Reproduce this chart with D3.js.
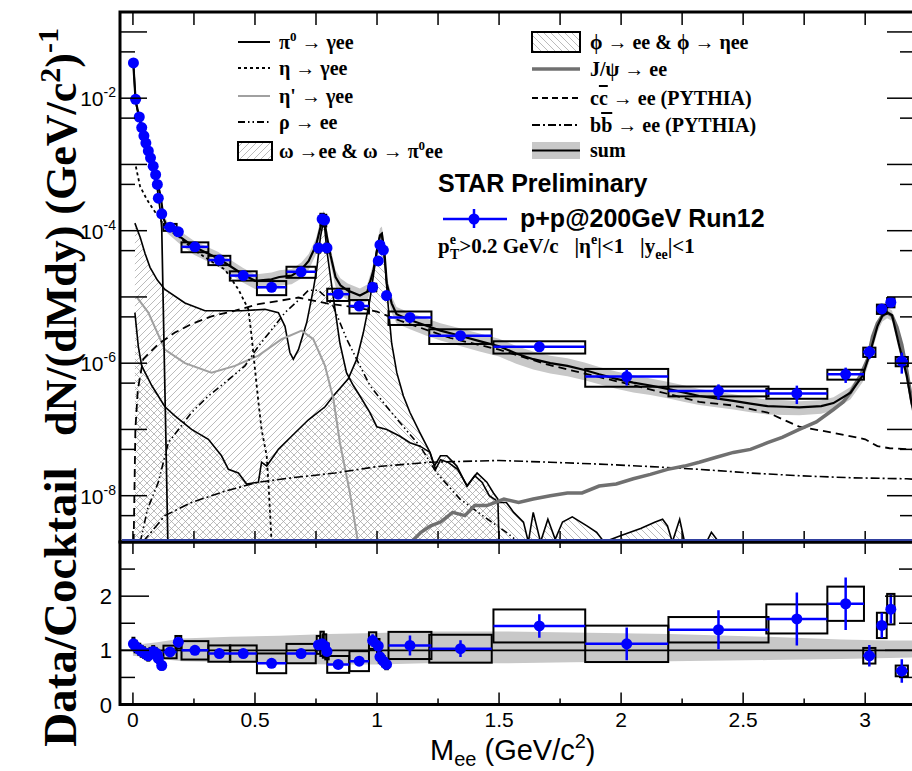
<!DOCTYPE html>
<html>
<head>
<meta charset="utf-8">
<script src="https://cdn.jsdelivr.net/npm/d3@7"></script>
<style>
    body { margin: 0; background: #fff; }
    .serif { font-family: "Liberation Serif", "DejaVu Serif", serif; font-weight: bold; }
    .sans { font-family: "Liberation Sans", Arial, sans-serif; }
    text { white-space: pre; }
</style>
</head>
<body>
<div id="chart"></div>
<script>
// measured points (STAR p+p 200 GeV Run12)
var dataM = [0.002, 0.011, 0.026, 0.036, 0.045, 0.053, 0.063, 0.072, 0.083, 0.093,
    0.100, 0.104, 0.118, 0.152, 0.186, 0.254, 0.354, 0.452, 0.568, 0.689,
    0.760, 0.775, 0.785, 0.795, 0.841, 0.927, 0.982, 1.005, 1.012, 1.026,
    1.039, 1.135, 1.342, 1.665, 2.023, 2.399, 2.720, 2.920, 3.017, 3.068,
    3.105, 3.150];
var dataY = [3.4e-2, 9.6e-3, 5.2e-3, 3.6e-3, 2.7e-3, 2.1e-3, 1.6e-3, 1.26e-3, 9.4e-4, 7.0e-4,
    5.0e-4, 3.1e-4, 1.8e-4, 1.13e-4, 9.6e-5, 5.7e-5, 3.6e-5, 2.1e-5, 1.4e-5, 2.4e-5,
    5.5e-5, 1.5e-4, 1.45e-4, 5.5e-5, 1.1e-5, 7.3e-6, 1.4e-5, 3.5e-5, 6.1e-5, 5.1e-5,
    1.05e-5, 4.9e-6, 2.6e-6, 1.77e-6, 6.3e-7, 3.8e-7, 3.5e-7, 6.8e-7, 1.48e-6, 6.6e-6,
    8.3e-6, 1.07e-6];
var dataXerr = [0.004, 0.004, 0.004, 0.004, 0.004, 0.004, 0.004, 0.004, 0.004, 0.004,
    0.004, 0.004, 0.006, 0.027, 0.012, 0.055, 0.045, 0.055, 0.06, 0.06,
    0.007, 0.007, 0.007, 0.007, 0.045, 0.04, 0.015, 0.005, 0.005, 0.005,
    0.005, 0.088, 0.128, 0.188, 0.17, 0.205, 0.125, 0.075, 0.025, 0.02,
    0.015, 0.025];
var dataStat = [0.03, 0.03, 0.04, 0.04, 0.04, 0.05, 0.05, 0.05, 0.05, 0.06,
    0.06, 0.06, 0.08, 0.06, 0.08, 0.05, 0.06, 0.07, 0.08, 0.07,
    0.08, 0.06, 0.06, 0.08, 0.1, 0.1, 0.1, 0.1, 0.08, 0.08,
    0.12, 0.17, 0.15, 0.15, 0.27, 0.26, 0.31, 0.26, 0.22, 0.16,
    0.15, 0.35];
var dataSys = [0.1, 0.1, 0.1, 0.1, 0.1, 0.1, 0.1, 0.1, 0.1, 0.1,
    0.1, 0.1, 0.1, 0.12, 0.1, 0.17, 0.16, 0.16, 0.24, 0.19,
    0.15, 0.2, 0.2, 0.15, 0.21, 0.23, 0.13, 0.12, 0.12, 0.12,
    0.12, 0.23, 0.25, 0.21, 0.3, 0.17, 0.17, 0.17, 0.16, 0.16,
    0.16, 0.16];
var ratioY = [1.12, 1.07, 1.02, 0.98, 0.96, 0.93, 0.9, 0.95, 0.98, 0.95,
    0.92, 0.85, 0.72, 0.97, 1.15, 1.0, 0.94, 0.94, 0.76, 0.94,
    1.1, 1.12, 1.08, 0.98, 0.74, 0.8, 1.18, 1.08, 0.88, 0.8,
    0.74, 1.09, 1.03, 1.45, 1.12, 1.38, 1.58, 1.86, 0.9, 1.46,
    1.76, 0.62];

// cocktail components
var pi0M = [0.002, 0.011, 0.026, 0.045, 0.063, 0.083, 0.100, 0.112, 0.118, 0.124, 0.130, 0.137, 0.143];
var pi0Y = [3.3e-2, 9.0e-3, 4.8e-3, 2.5e-3, 1.5e-3, 8.0e-4, 4.2e-4, 2.0e-4, 1.1e-4, 8e-6, 6e-7, 3e-8, 1e-10];

var etaM = [0.012, 0.029, 0.056, 0.083, 0.111, 0.138, 0.186, 0.247, 0.329, 0.377,
    0.432, 0.473, 0.486, 0.500, 0.514, 0.527, 0.548, 0.555, 0.568];
var etaY = [9.3e-4, 4.7e-4, 3.0e-4, 2.1e-4, 1.5e-4, 1.05e-4, 8.3e-5, 5.2e-5, 3.3e-5, 2.6e-5,
    1.3e-5, 6.5e-6, 2.6e-6, 8.1e-7, 2.6e-7, 1.0e-7, 4.0e-8, 1.6e-8, 1e-10];

var etapM = [0.015, 0.063, 0.131, 0.213, 0.322, 0.418, 0.514, 0.609, 0.691, 0.739,
    0.787, 0.821, 0.848, 0.889, 0.920, 0.935];
var etapY = [1.0e-5, 5.8e-6, 1.6e-6, 1.0e-6, 7.2e-7, 9.1e-7, 1.3e-6, 2.3e-6, 3.1e-6, 2.3e-6,
    9.1e-7, 2.9e-7, 6.3e-8, 1.1e-8, 2.2e-9, 1e-10];

var rhoM = [0.030, 0.060, 0.104, 0.145, 0.240, 0.309, 0.377, 0.459, 0.514, 0.568,
    0.623, 0.678, 0.719, 0.760, 0.790, 0.821, 0.876, 0.930, 0.971, 1.040,
    1.108, 1.176, 1.245, 1.340, 1.450, 1.530, 1.580];
var rhoY = [2.0e-9, 6.3e-9, 1.6e-8, 6.3e-8, 1.8e-7, 3.2e-7, 5.1e-7, 9.1e-7, 1.8e-6, 3.2e-6,
    5.8e-6, 8.9e-6, 1.26e-5, 1.26e-5, 1.0e-5, 7.2e-6, 2.3e-6, 9.1e-7, 4.6e-7, 2.2e-7,
    1.1e-7, 5.6e-8, 2.2e-8, 8.9e-9, 4.5e-9, 2.8e-9, 1e-10];

var omegaM = [0.008, 0.030, 0.050, 0.070, 0.100, 0.131, 0.213, 0.295, 0.445, 0.541,
    0.596, 0.623, 0.643, 0.657, 0.678, 0.712, 0.739, 0.753, 0.768, 0.782,
    0.794, 0.807, 0.828, 0.848, 0.875, 0.903, 0.930, 0.971, 0.999, 1.040,
    1.094, 1.135, 1.176, 1.217, 1.235, 1.260, 1.286, 1.327, 1.368, 1.410,
    1.450, 1.477, 1.495, 1.500];
var omegaY = [1.3e-4, 7.9e-5, 4.5e-5, 2.8e-5, 1.8e-5, 1.3e-5, 8.1e-6, 6.2e-6, 6.2e-6, 6.5e-6,
    5.8e-6, 3.6e-6, 1.45e-6, 1.15e-6, 1.6e-6, 4.1e-6, 1.3e-5, 2.6e-5, 7.9e-5, 1.5e-4,
    5.2e-5, 2.3e-5, 6.5e-6, 2.0e-6, 7.2e-7, 4.6e-7, 3.2e-7, 1.8e-7, 1.1e-7, 1.0e-7,
    7.9e-8, 6.3e-8, 5.6e-8, 4.5e-8, 2.8e-8, 4.0e-8, 4.0e-8, 2.8e-8, 1.4e-8, 2.2e-8,
    1.6e-8, 1.1e-8, 8.9e-9, 1e-10];

var phiM = [0.008, 0.022, 0.036, 0.077, 0.131, 0.172, 0.240, 0.309, 0.363, 0.391,
    0.432, 0.466, 0.514, 0.527, 0.548, 0.596, 0.650, 0.719, 0.787, 0.821,
    0.882, 0.917, 0.944, 0.971, 0.985, 0.999, 1.012, 1.019, 1.033, 1.046,
    1.060, 1.081, 1.108, 1.135, 1.176, 1.217, 1.240, 1.260, 1.290, 1.330,
    1.370, 1.400, 1.430, 1.460, 1.500, 1.530, 1.560, 1.600, 1.620, 1.640,
    1.670, 1.700, 1.730, 1.760, 1.800, 1.860, 1.900, 1.930, 2.000, 2.080,
    2.140, 2.170, 2.190, 2.210, 2.240, 2.260, 2.300, 2.350, 2.370, 2.400];
var phiY = [5.8e-6, 1.8e-6, 9.1e-7, 4.6e-7, 2.2e-7, 1.6e-7, 1.0e-7, 7.1e-8, 4.0e-8, 2.5e-8,
    2.2e-8, 1.5e-8, 1.6e-8, 3.2e-8, 2.8e-8, 5.0e-8, 7.9e-8, 1.4e-7, 2.2e-7, 3.2e-7,
    5.8e-7, 1.15e-6, 2.9e-6, 9.1e-6, 2.1e-5, 5.2e-5, 8.3e-5, 8.9e-5, 3.0e-5, 7.2e-6,
    2.0e-6, 7.2e-7, 3.2e-7, 1.8e-7, 8.9e-8, 4.5e-8, 2.5e-8, 3.5e-8, 3.2e-8, 2.5e-8,
    1.4e-8, 2.0e-8, 1.6e-8, 1.0e-8, 7.9e-9, 7.9e-9, 5.6e-9, 4.0e-9, 2.0e-9, 5.6e-9,
    2.0e-9, 4.4e-9, 2.2e-9, 4.0e-9, 4.8e-9, 3.5e-9, 2.8e-9, 2.0e-9, 2.5e-9, 3.2e-9,
    4.0e-9, 4.4e-9, 3.5e-9, 2.0e-9, 4.4e-9, 2.0e-9, 2.0e-9, 2.0e-9, 2.8e-9, 2.0e-9];

var jpsiM = [1.14, 1.18, 1.22, 1.26, 1.31, 1.36, 1.40, 1.45, 1.52, 1.58,
    1.64, 1.71, 1.78, 1.84, 1.91, 1.98, 2.05, 2.12, 2.19, 2.26,
    2.32, 2.39, 2.46, 2.53, 2.60, 2.66, 2.73, 2.80, 2.87, 2.91,
    2.94, 2.98, 3.01, 3.03, 3.05, 3.07, 3.09, 3.11, 3.13, 3.15,
    3.17, 3.19, 3.22];
var jpsiY = [2.0e-9, 2.8e-9, 3.5e-9, 4.0e-9, 5.6e-9, 5.0e-9, 7.1e-9, 7.1e-9, 8.9e-9, 7.9e-9,
    8.9e-9, 1.0e-8, 1.1e-8, 1.1e-8, 1.4e-8, 1.5e-8, 1.8e-8, 2.1e-8, 2.5e-8, 2.8e-8,
    3.2e-8, 3.8e-8, 4.5e-8, 5.0e-8, 6.3e-8, 7.6e-8, 1.0e-7, 1.3e-7, 2.0e-7, 2.6e-7,
    3.6e-7, 6.5e-7, 1.15e-6, 2.5e-6, 4.0e-6, 5.2e-6, 5.8e-6, 5.2e-6, 3.5e-6, 1.9e-6,
    7.9e-7, 2.8e-7, 7.9e-8];

var ccM = [0.003, 0.010, 0.020, 0.042, 0.104, 0.172, 0.240, 0.322, 0.418, 0.514,
    0.596, 0.678, 0.800, 0.900, 1.000, 1.100, 1.300, 1.500, 1.700, 1.900,
    2.100, 2.320, 2.460, 2.600, 2.730, 2.870, 3.000, 3.050, 3.100, 3.190,
    3.220];
var ccY = [2.0e-9, 1.0e-7, 4.0e-7, 1.15e-6, 1.95e-6, 2.9e-6, 3.9e-6, 5.1e-6, 6.2e-6, 7.8e-6,
    8.7e-6, 9.8e-6, 7.9e-6, 7.1e-6, 6.0e-6, 4.3e-6, 2.4e-6, 1.6e-6, 9.5e-7, 6.3e-7,
    4.2e-7, 2.6e-7, 2.3e-7, 1.8e-7, 1.1e-7, 8.9e-8, 7.1e-8, 5.6e-8, 5.2e-8, 5.0e-8,
    4.8e-8];

var bbM = [0.040, 0.063, 0.131, 0.240, 0.377, 0.514, 0.650, 0.828, 1.000, 1.217,
    1.500, 1.709, 1.910, 2.120, 2.320, 2.530, 2.730, 2.950, 3.170, 3.220];
var bbY = [2.0e-9, 2.5e-9, 5.0e-9, 7.9e-9, 1.17e-8, 1.6e-8, 1.86e-8, 2.2e-8, 2.75e-8, 3.2e-8,
    3.4e-8, 3.2e-8, 3.0e-8, 2.75e-8, 2.5e-8, 2.2e-8, 2.0e-8, 1.86e-8, 1.8e-8, 1.75e-8];

// cocktail sum with relative uncertainty
var sumM = [0.002, 0.011, 0.026, 0.045, 0.063, 0.083, 0.100, 0.112, 0.118, 0.126,
    0.140, 0.186, 0.250, 0.350, 0.450, 0.500, 0.568, 0.600, 0.650, 0.690,
    0.720, 0.750, 0.770, 0.782, 0.795, 0.810, 0.830, 0.850, 0.880, 0.930,
    0.960, 0.985, 1.000, 1.012, 1.020, 1.030, 1.040, 1.060, 1.080, 1.135,
    1.200, 1.260, 1.340, 1.420, 1.500, 1.570, 1.640, 1.710, 1.780, 1.850,
    1.910, 1.980, 2.050, 2.120, 2.190, 2.260, 2.320, 2.390, 2.460, 2.530,
    2.600, 2.670, 2.730, 2.820, 2.870, 2.940, 2.990, 3.020, 3.050, 3.070,
    3.090, 3.110, 3.140, 3.170, 3.190, 3.220];
var sumY = [3.1e-2, 9.2e-3, 5.1e-3, 2.8e-3, 1.75e-3, 9.6e-4, 5.4e-4, 3.5e-4, 2.5e-4, 1.5e-4,
    1.15e-4, 8.4e-5, 5.7e-5, 3.8e-5, 2.2e-5, 1.75e-5, 1.85e-5, 2.0e-5, 2.1e-5, 2.6e-5,
    3.5e-5, 6.0e-5, 1.2e-4, 1.6e-4, 8.0e-5, 4.2e-5, 2.0e-5, 1.5e-5, 1.25e-5, 1.05e-5,
    1.2e-5, 2.5e-5, 5.0e-5, 8.5e-5, 9.0e-5, 5.0e-5, 1.6e-5, 8.0e-6, 5.5e-6, 4.5e-6,
    3.7e-6, 3.1e-6, 2.6e-6, 2.15e-6, 1.8e-6, 1.4e-6, 1.15e-6, 1.0e-6, 9.1e-7, 7.9e-7,
    6.8e-7, 5.8e-7, 5.1e-7, 4.6e-7, 4.1e-7, 3.6e-7, 3.2e-7, 2.95e-7, 2.7e-7, 2.45e-7,
    2.25e-7, 2.2e-7, 2.15e-7, 2.25e-7, 2.5e-7, 3.6e-7, 6.5e-7, 1.45e-6, 3.6e-6, 5.2e-6,
    5.8e-6, 5.3e-6, 1.8e-6, 6.5e-7, 2.5e-7, 1.0e-7];
var sumRel = [0.1, 0.1, 0.1, 0.12, 0.12, 0.14, 0.15, 0.17, 0.18, 0.2,
    0.2, 0.22, 0.24, 0.25, 0.25, 0.25, 0.26, 0.26, 0.26, 0.27,
    0.27, 0.27, 0.27, 0.27, 0.28, 0.28, 0.28, 0.28, 0.28, 0.28,
    0.28, 0.28, 0.28, 0.28, 0.28, 0.28, 0.28, 0.28, 0.28, 0.28,
    0.29, 0.29, 0.3, 0.3, 0.3, 0.3, 0.3, 0.3, 0.3, 0.3,
    0.29, 0.29, 0.29, 0.28, 0.28, 0.28, 0.27, 0.27, 0.26, 0.26,
    0.25, 0.25, 0.24, 0.23, 0.22, 0.21, 0.2, 0.2, 0.19, 0.19,
    0.18, 0.18, 0.18, 0.18, 0.18, 0.18];

// cocktail uncertainty band in the ratio panel
var ratioBandM = [0, 0.1, 0.2, 0.4, 0.6, 0.8, 1.0, 1.2, 1.5, 1.8, 2.2, 2.6, 2.9, 3.1, 3.25];
var ratioBandHi = [1.1, 1.15, 1.22, 1.25, 1.27, 1.3, 1.32, 1.35, 1.35, 1.33, 1.3, 1.25, 1.2, 1.18, 1.18];
var ratioBandLo = [0.9, 0.85, 0.8, 0.78, 0.76, 0.74, 0.74, 0.76, 0.76, 0.78, 0.8, 0.82, 0.84, 0.86, 0.87];

// tick labels
var xTickLabels = ["0", "0.5", "1", "1.5", "2", "2.5", "3"];
var yTickExponents = [-2, -4, -6, -8];
var ratioTickLabels = ["0", "1", "2"];

var width = 912, height = 771;
var left = 120, right = 914;
var mainTop = 12, mainBottom = 542, ratioBottom = 704.5;

var x = d3.scaleLinear().domain([-0.053, 3.2]).range([left, right]);
var y = d3.scaleLog().domain([2e-9, 0.2]).range([mainBottom, mainTop]).clamp(true);
var yr = d3.scaleLinear().domain([0, 3]).range([ratioBottom, mainBottom]);

var svg = d3.select("#chart").append("svg")
    .attr("width", width)
    .attr("height", height);

var defs = svg.append("defs");
defs.append("clipPath").attr("id", "clipMain").append("rect")
    .attr("x", left).attr("y", mainTop).attr("width", right - left).attr("height", mainBottom - mainTop);
defs.append("clipPath").attr("id", "clipRatio").append("rect")
    .attr("x", left).attr("y", mainBottom).attr("width", right - left).attr("height", ratioBottom - mainBottom);

// hatch patterns: omega "///", phi "\\\"
defs.append("pattern").attr("id", "hatchOmega")
    .attr("patternUnits", "userSpaceOnUse").attr("width", 7).attr("height", 7)
    .append("path").attr("d", "M-1,1 l2,-2 M0,7 l7,-7 M6,8 l2,-2")
    .attr("stroke", "#a4a4a4").attr("stroke-width", 0.75);
defs.append("pattern").attr("id", "hatchPhi")
    .attr("patternUnits", "userSpaceOnUse").attr("width", 7).attr("height", 7)
    .append("path").attr("d", "M-1,6 l2,2 M0,0 l7,7 M6,-1 l2,2")
    .attr("stroke", "#a4a4a4").attr("stroke-width", 0.75);

function pairs(ms, vs) {
    return ms.map(function (m, i) { return [m, vs[i]]; });
}

var line = d3.line()
    .x(function (d) { return x(d[0]); })
    .y(function (d) { return y(d[1]); });

var area = d3.area()
    .x(function (d) { return x(d[0]); })
    .y0(mainBottom)
    .y1(function (d) { return y(d[1]); });

var main = svg.append("g").attr("clip-path", "url(#clipMain)");

// sum band
var sumData = sumM.map(function (m, i) { return [m, sumY[i], sumRel[i]]; });
main.append("path")
    .attr("d", d3.area()
        .x(function (d) { return x(d[0]); })
        .y0(function (d) { return y(d[1] * (1 - d[2])); })
        .y1(function (d) { return y(d[1] * (1 + d[2])); })(sumData))
    .attr("fill", "#c8c8c8");

// hatched omega and phi
main.append("path").attr("d", area(pairs(phiM, phiY))).attr("fill", "url(#hatchPhi)");
main.append("path").attr("d", area(pairs(omegaM, omegaY))).attr("fill", "url(#hatchOmega)");

var curves = [
    { m: phiM, v: phiY, color: "#000", w: 1.6, dash: null },
    { m: omegaM, v: omegaY, color: "#000", w: 1.6, dash: null },
    { m: etapM, v: etapY, color: "#a0a0a0", w: 2, dash: null },
    { m: rhoM, v: rhoY, color: "#000", w: 1.6, dash: "7,3,1.5,3,1.5,3" },
    { m: etaM, v: etaY, color: "#000", w: 1.8, dash: "3,3" },
    { m: pi0M, v: pi0Y, color: "#000", w: 1.7, dash: null },
    { m: ccM, v: ccY, color: "#000", w: 1.8, dash: "8,5" },
    { m: bbM, v: bbY, color: "#000", w: 1.6, dash: "9,3,2,3" },
    { m: jpsiM, v: jpsiY, color: "#707070", w: 3.5, dash: null }
];

curves.forEach(function (c) {
    main.append("path")
        .attr("d", line(pairs(c.m, c.v)))
        .attr("fill", "none")
        .attr("stroke", c.color)
        .attr("stroke-width", c.w)
        .attr("stroke-dasharray", c.dash);
});

main.append("path")
    .attr("d", line(pairs(sumM, sumY)))
    .attr("fill", "none")
    .attr("stroke", "#000")
    .attr("stroke-width", 2.2);

// data in main panel
var points = dataM.map(function (m, i) {
    return { m: m, v: dataY[i], xe: dataXerr[i], st: dataStat[i], sy: dataSys[i], r: ratioY[i] };
});

main.selectAll(".sysbox")
    .data(points)
    .enter()
    .append("rect")
    .attr("class", "sysbox")
    .attr("x", function (d) { return x(d.m - d.xe); })
    .attr("width", function (d) { return x(d.m + d.xe) - x(d.m - d.xe); })
    .attr("y", function (d) { return y(d.v * (1 + d.sy)); })
    .attr("height", function (d) { return y(d.v * (1 - d.sy)) - y(d.v * (1 + d.sy)); })
    .attr("fill", "none")
    .attr("stroke", "#000")
    .attr("stroke-width", 2);

main.selectAll(".xerr")
    .data(points)
    .enter()
    .append("line")
    .attr("x1", function (d) { return x(d.m - d.xe); })
    .attr("x2", function (d) { return x(d.m + d.xe); })
    .attr("y1", function (d) { return y(d.v); })
    .attr("y2", function (d) { return y(d.v); })
    .attr("stroke", "#0000ff")
    .attr("stroke-width", 2.5);

main.selectAll(".yerr")
    .data(points)
    .enter()
    .append("line")
    .attr("x1", function (d) { return x(d.m); })
    .attr("x2", function (d) { return x(d.m); })
    .attr("y1", function (d) { return y(d.v * (1 - d.st)); })
    .attr("y2", function (d) { return y(d.v * (1 + d.st)); })
    .attr("stroke", "#0000ff")
    .attr("stroke-width", 2.5);

main.selectAll(".dot")
    .data(points)
    .enter()
    .append("circle")
    .attr("cx", function (d) { return x(d.m); })
    .attr("cy", function (d) { return y(d.v); })
    .attr("r", 5.5)
    .attr("fill", "#0000ff");

// ratio panel
var ratio = svg.append("g").attr("clip-path", "url(#clipRatio)");
var bandData = ratioBandM.map(function (m, i) { return [m, ratioBandLo[i], ratioBandHi[i]]; });
ratio.append("path")
    .attr("d", d3.area()
        .x(function (d) { return x(d[0]); })
        .y0(function (d) { return yr(d[1]); })
        .y1(function (d) { return yr(d[2]); })(bandData))
    .attr("fill", "#c8c8c8");

ratio.append("line")
    .attr("x1", left).attr("x2", right)
    .attr("y1", yr(1)).attr("y2", yr(1))
    .attr("stroke", "#000").attr("stroke-width", 1.6);

ratio.selectAll(".rbox")
    .data(points)
    .enter()
    .append("rect")
    .attr("x", function (d) { return x(d.m - d.xe); })
    .attr("width", function (d) { return x(d.m + d.xe) - x(d.m - d.xe); })
    .attr("y", function (d) { return yr(d.r * (1 + d.sy)); })
    .attr("height", function (d) { return yr(d.r * (1 - d.sy)) - yr(d.r * (1 + d.sy)); })
    .attr("fill", "none")
    .attr("stroke", "#000")
    .attr("stroke-width", 2);

ratio.selectAll(".rxerr")
    .data(points)
    .enter()
    .append("line")
    .attr("x1", function (d) { return x(d.m - d.xe); })
    .attr("x2", function (d) { return x(d.m + d.xe); })
    .attr("y1", function (d) { return yr(d.r); })
    .attr("y2", function (d) { return yr(d.r); })
    .attr("stroke", "#0000ff")
    .attr("stroke-width", 2.5);

ratio.selectAll(".ryerr")
    .data(points)
    .enter()
    .append("line")
    .attr("x1", function (d) { return x(d.m); })
    .attr("x2", function (d) { return x(d.m); })
    .attr("y1", function (d) { return yr(d.r * (1 - d.st)); })
    .attr("y2", function (d) { return yr(d.r * (1 + d.st)); })
    .attr("stroke", "#0000ff")
    .attr("stroke-width", 2.5);

ratio.selectAll(".rdot")
    .data(points)
    .enter()
    .append("circle")
    .attr("cx", function (d) { return x(d.m); })
    .attr("cy", function (d) { return yr(d.r); })
    .attr("r", 5.5)
    .attr("fill", "#0000ff");

// ticks
var ticks = svg.append("g").attr("stroke", "#000").attr("stroke-width", 1.5);
var xQuarter = d3.range(0, 3.01, 0.25);

xQuarter.forEach(function (t) {
    ticks.append("line").attr("x1", x(t)).attr("x2", x(t)).attr("y1", mainTop).attr("y2", mainTop + 13);
    ticks.append("line").attr("x1", x(t)).attr("x2", x(t)).attr("y1", mainBottom).attr("y2", mainBottom - 11);
    var len = (Math.round(t * 4) % 2 === 0) ? 12 : 6;
    ticks.append("line").attr("x1", x(t)).attr("x2", x(t)).attr("y1", mainBottom).attr("y2", mainBottom + len);
    ticks.append("line").attr("x1", x(t)).attr("x2", x(t)).attr("y1", ratioBottom).attr("y2", ratioBottom - len);
});

d3.range(1, 9).forEach(function (k) {
    var major = Math.pow(10, -k);
    var minor = 5 * Math.pow(10, -k - 1);
    ticks.append("line").attr("x1", left).attr("x2", left + 27).attr("y1", y(major)).attr("y2", y(major));
    ticks.append("line").attr("x1", right).attr("x2", right - 27).attr("y1", y(major)).attr("y2", y(major));
    ticks.append("line").attr("x1", left).attr("x2", left + 15).attr("y1", y(minor)).attr("y2", y(minor));
    ticks.append("line").attr("x1", right).attr("x2", right - 14).attr("y1", y(minor)).attr("y2", y(minor));
});

d3.range(0.5, 3, 0.5).forEach(function (t) {
    var len = (t % 1 === 0) ? 29 : 15;
    ticks.append("line").attr("x1", left).attr("x2", left + len).attr("y1", yr(t)).attr("y2", yr(t));
    ticks.append("line").attr("x1", right).attr("x2", right - len).attr("y1", yr(t)).attr("y2", yr(t));
});

// frames
svg.append("rect")
    .attr("x", left).attr("y", mainTop)
    .attr("width", right - left).attr("height", mainBottom - mainTop)
    .attr("fill", "none").attr("stroke", "#000").attr("stroke-width", 3);
svg.append("rect")
    .attr("x", left).attr("y", mainBottom)
    .attr("width", right - left).attr("height", ratioBottom - mainBottom)
    .attr("fill", "none").attr("stroke", "#000").attr("stroke-width", 3);
svg.append("line")
    .attr("x1", left + 2).attr("x2", right)
    .attr("y1", mainBottom - 2).attr("y2", mainBottom - 2)
    .attr("stroke", "#2f3f9f").attr("stroke-width", 2);

// tick labels
svg.selectAll(".xlab")
    .data(xTickLabels)
    .enter()
    .append("text")
    .attr("class", "sans")
    .attr("x", function (d) { return x(+d); })
    .attr("y", 727)
    .attr("text-anchor", "middle")
    .attr("font-size", 21)
    .text(function (d) { return d; });

svg.selectAll(".rlab")
    .data(ratioTickLabels)
    .enter()
    .append("text")
    .attr("class", "sans")
    .attr("x", 112)
    .attr("y", function (d) { return yr(+d) + 8; })
    .attr("text-anchor", "end")
    .attr("font-size", 22)
    .text(function (d) { return d; });

yTickExponents.forEach(function (e) {
    var t = svg.append("text")
        .attr("class", "sans")
        .attr("x", 116)
        .attr("y", y(Math.pow(10, e)) + 8)
        .attr("text-anchor", "end")
        .attr("font-size", 21);
    t.append("tspan").text("10");
    t.append("tspan").attr("dy", -9).attr("font-size", 14).text("-" + (-e));
});

// axis titles
var yt = svg.append("text")
    .attr("class", "serif")
    .attr("transform", "translate(76,232) rotate(-90)")
    .attr("text-anchor", "middle")
    .attr("font-size", 44);
yt.append("tspan").text("dN/(dMdy) (GeV/c");
yt.append("tspan").attr("dy", -16).attr("font-size", 30).text("2");
yt.append("tspan").attr("dy", 16).text(")");
yt.append("tspan").attr("dy", -18).attr("font-size", 30).text("-1");

svg.append("text")
    .attr("class", "serif")
    .attr("transform", "translate(76,607) rotate(-90)")
    .attr("text-anchor", "middle")
    .attr("font-size", 47)
    .text("Data/Cocktail");

var xt = svg.append("text")
    .attr("class", "sans")
    .attr("x", 430)
    .attr("y", 760)
    .attr("font-size", 29);
xt.append("tspan").text("M");
xt.append("tspan").attr("dy", 6).attr("font-size", 20).text("ee");
xt.append("tspan").attr("dy", -6).text(" (GeV/c");
xt.append("tspan").attr("dy", -12).attr("font-size", 20).text("2");
xt.append("tspan").attr("dy", 12).text(")");

// legend, left column
var leg = svg.append("g");
function legLine(x1, x2, yy, color, w, dash) {
    leg.append("line")
        .attr("x1", x1).attr("x2", x2).attr("y1", yy).attr("y2", yy)
        .attr("stroke", color).attr("stroke-width", w).attr("stroke-dasharray", dash);
}
function legText(xx, yy) {
    return leg.append("text").attr("class", "serif").attr("x", xx).attr("y", yy + 7).attr("font-size", 20);
}

legLine(238, 270, 42, "#000", 2, null);
var t1 = legText(279, 42);
t1.append("tspan").text("π");
t1.append("tspan").attr("dy", -8).attr("font-size", 13).text("0");
t1.append("tspan").attr("dy", 8).text(" → γee");

legLine(238, 270, 68, "#000", 2, "3,3");
legText(279, 68).text("η → γee");

legLine(238, 270, 96, "#a0a0a0", 2, null);
legText(279, 96).text("η' → γee");

legLine(238, 270, 122, "#000", 2, "7,3,1.5,3,1.5,3");
legText(279, 122).text("ρ → ee");

leg.append("rect").attr("x", 238).attr("y", 142).attr("width", 34).attr("height", 18)
    .attr("fill", "url(#hatchOmega)").attr("stroke", "#000").attr("stroke-width", 2);
var t5 = legText(279, 151);
t5.append("tspan").text("ω →ee & ω → π");
t5.append("tspan").attr("dy", -8).attr("font-size", 13).text("0");
t5.append("tspan").attr("dy", 8).text("ee");

// legend, right column
leg.append("rect").attr("x", 532).attr("y", 32).attr("width", 48).attr("height", 20)
    .attr("fill", "url(#hatchPhi)").attr("stroke", "#000").attr("stroke-width", 2);
legText(590, 42).text("ϕ → ee & ϕ → ηee");

legLine(532, 580, 69, "#707070", 3.5, null);
legText(590, 69).text("J/ψ → ee");

legLine(532, 580, 98, "#000", 2, "6,4");
var t8 = legText(590, 98);
t8.append("tspan").text("c");
t8.append("tspan").style("text-decoration", "overline").text("c");
t8.append("tspan").text(" → ee (PYTHIA)");

legLine(532, 580, 125, "#000", 2, "8,3,2,3");
var t9 = legText(590, 125);
t9.append("tspan").text("b");
t9.append("tspan").style("text-decoration", "overline").text("b");
t9.append("tspan").text(" → ee (PYTHIA)");

leg.append("rect").attr("x", 532).attr("y", 142).attr("width", 48).attr("height", 17).attr("fill", "#c8c8c8");
legLine(532, 580, 150.5, "#000", 2.2, null);
legText(590, 150).text("sum");

// labels
svg.append("text")
    .attr("class", "sans")
    .attr("x", 438).attr("y", 192)
    .attr("font-size", 25).attr("font-weight", "bold")
    .text("STAR Preliminary");

legLine(443, 507, 219, "#0000ff", 2.5, null);
leg.append("line").attr("x1", 474).attr("x2", 474).attr("y1", 209).attr("y2", 228)
    .attr("stroke", "#0000ff").attr("stroke-width", 2.5);
leg.append("circle").attr("cx", 474).attr("cy", 219).attr("r", 5.5).attr("fill", "#0000ff");
svg.append("text")
    .attr("class", "sans")
    .attr("x", 520).attr("y", 227)
    .attr("font-size", 25).attr("font-weight", "bold")
    .text("p+p@200GeV Run12");

var cut = svg.append("text")
    .attr("class", "serif")
    .attr("x", 438).attr("y", 253)
    .attr("font-size", 21);
cut.append("tspan").text("p");
cut.append("tspan").attr("dy", -9).attr("font-size", 14).text("e");
cut.append("tspan").attr("dx", -6).attr("dy", 15).attr("font-size", 14).text("T");
cut.append("tspan").attr("dy", -6).text(">0.2 GeV/c   |η");
cut.append("tspan").attr("dy", -9).attr("font-size", 14).text("e");
cut.append("tspan").attr("dy", 9).text("|<1   |y");
cut.append("tspan").attr("dy", 6).attr("font-size", 14).text("ee");
cut.append("tspan").attr("dy", -6).text("|<1");
</script>
</body>
</html>
